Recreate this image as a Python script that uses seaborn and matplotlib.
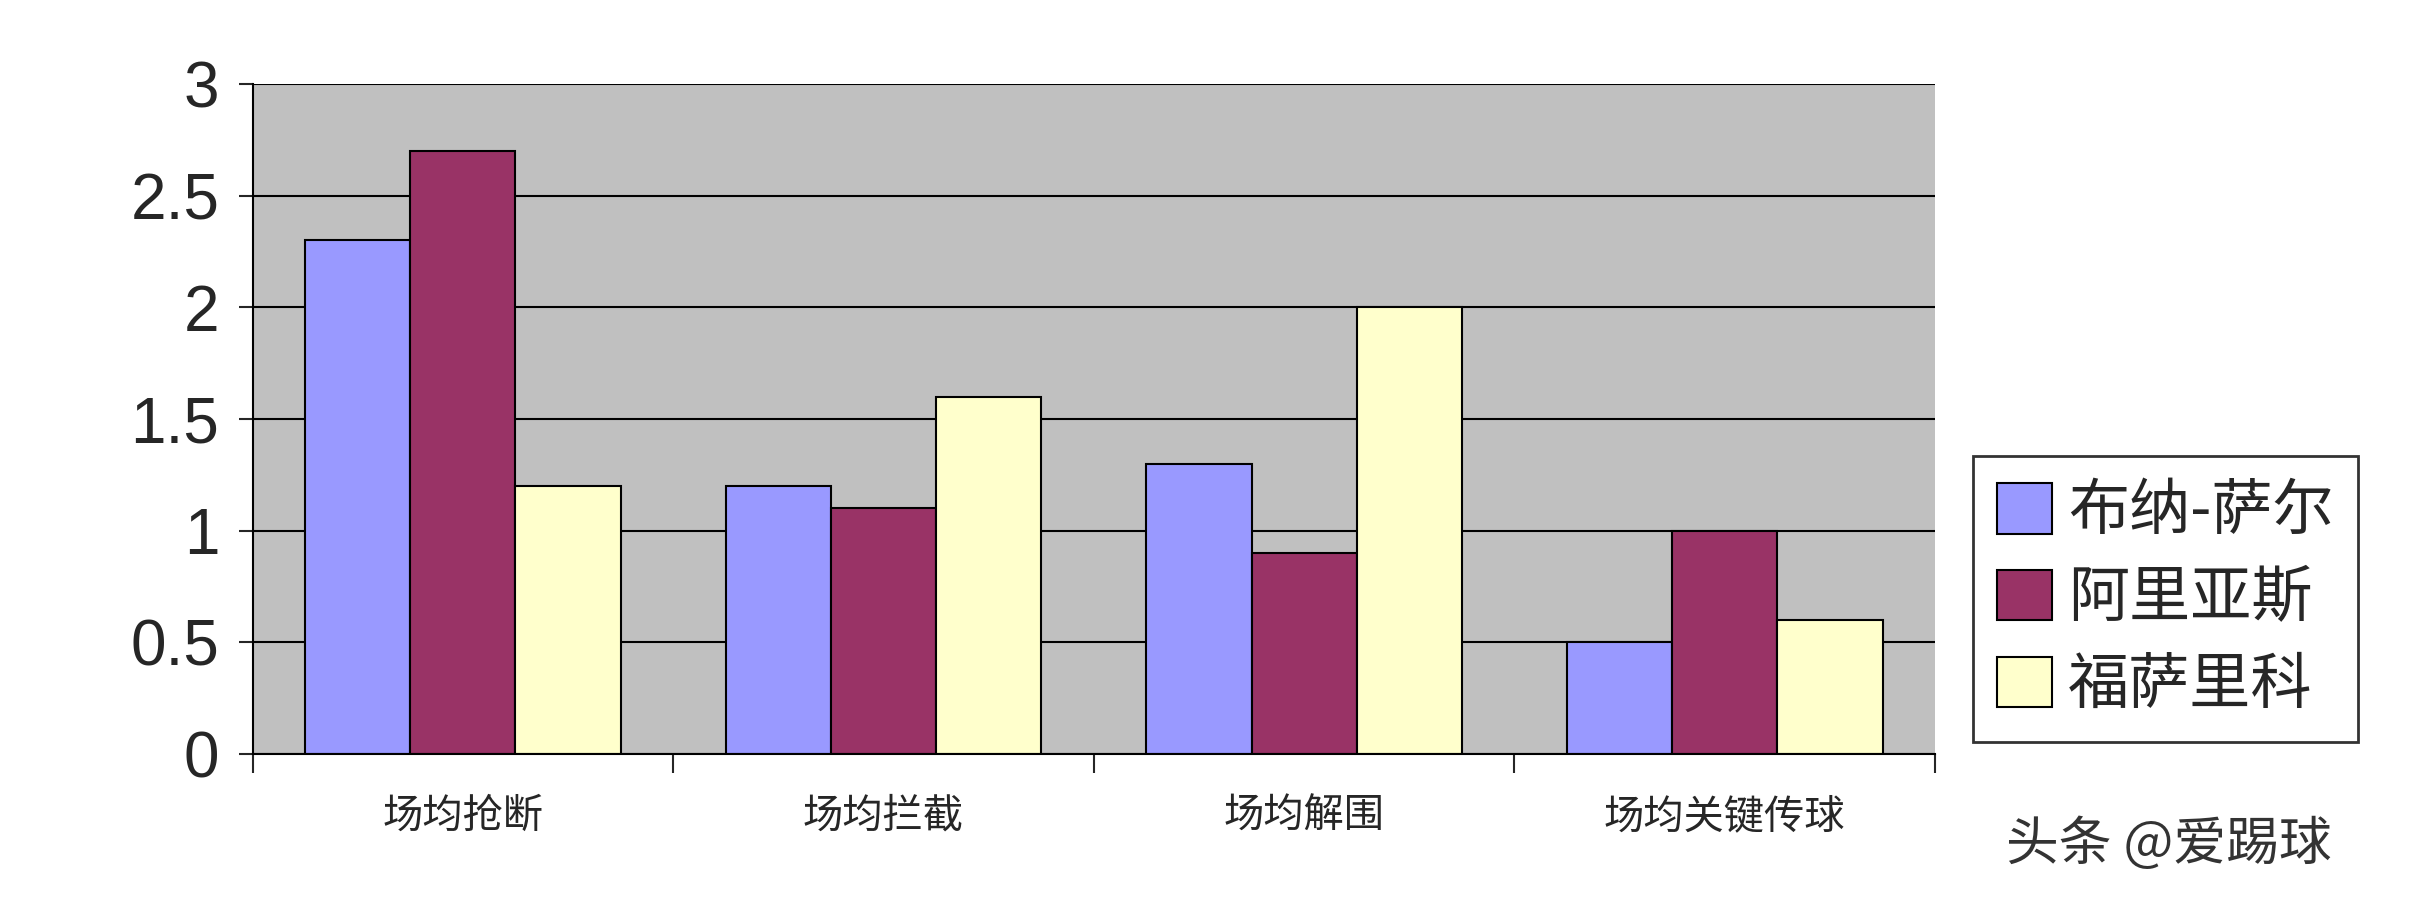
import pandas as pd
import seaborn as sns
import matplotlib.pyplot as plt

categories = ['场均抢断', '场均拦截', '场均解围', '场均关键传球']
players = ['布纳-萨尔', '阿里亚斯', '福萨里科']
busquets = [2.3, 1.2, 1.3, 0.5]
arias = [2.7, 1.1, 0.9, 1.0]
fossati = [1.2, 1.6, 2.0, 0.6]
colors = ['#9999FF', '#993366', '#FFFFCC']

rows = []
for name, vals in zip(players, [busquets, arias, fossati]):
    for c, v in zip(categories, vals):
        rows.append({'category': c, 'player': name, 'value': v})
df = pd.DataFrame(rows)

sns.set_style('white')
plt.rcParams['font.family'] = ['Noto Sans CJK SC', 'DejaVu Sans']

fig = plt.figure(figsize=(24.28, 9.01), dpi=100)
ax = fig.add_axes([0.104, 0.163, 0.693, 0.744])
ax.set_facecolor('#C0C0C0')

sns.barplot(data=df, x='category', y='value', hue='player', palette=colors,
            width=0.75, edgecolor='black', linewidth=1.5, saturation=1, ax=ax)

ax.set_ylim(0, 3)
ax.set_xlim(-0.5, len(categories) - 0.5)
ax.set_yticks([0, 0.5, 1, 1.5, 2, 2.5, 3])
ax.set_yticklabels(['0', '0.5', '1', '1.5', '2', '2.5', '3'],
                   family=['Liberation Sans', 'DejaVu Sans'], fontsize=46)
ax.yaxis.grid(True, color='black', linewidth=1.5)
ax.set_axisbelow(True)
ax.tick_params(axis='y', direction='out', length=10, width=1.5, left=True, pad=14)

# group boundary ticks on x axis
ax.set_xticks([i - 0.5 for i in range(len(categories) + 1)], minor=True)
ax.tick_params(axis='x', which='minor', direction='out', length=14, width=1.5, bottom=True)
ax.tick_params(axis='x', which='major', length=0, labelsize=29, pad=30)

for s in ['top', 'right']:
    ax.spines[s].set_visible(False)
for s in ['left', 'bottom']:
    ax.spines[s].set_color('black')
    ax.spines[s].set_linewidth(1.5)

ax.set_xlabel('')
ax.set_ylabel('')

handles, labels = ax.get_legend_handles_labels()
ax.legend_.remove()
leg = fig.legend(handles, labels, loc='lower left', bbox_to_anchor=(0.800, 0.143),
                 fontsize=44, frameon=True, fancybox=False, edgecolor='black',
                 handlelength=0.9, handleheight=0.9, handletextpad=0.25,
                 labelspacing=0.4, borderpad=0.4)
leg.get_frame().set_linewidth(2)

fig.text(0.826, 0.045, '头条 @爱踢球', fontsize=38, color='#333333')

plt.savefig('out.png', dpi=100)
plt.close()
